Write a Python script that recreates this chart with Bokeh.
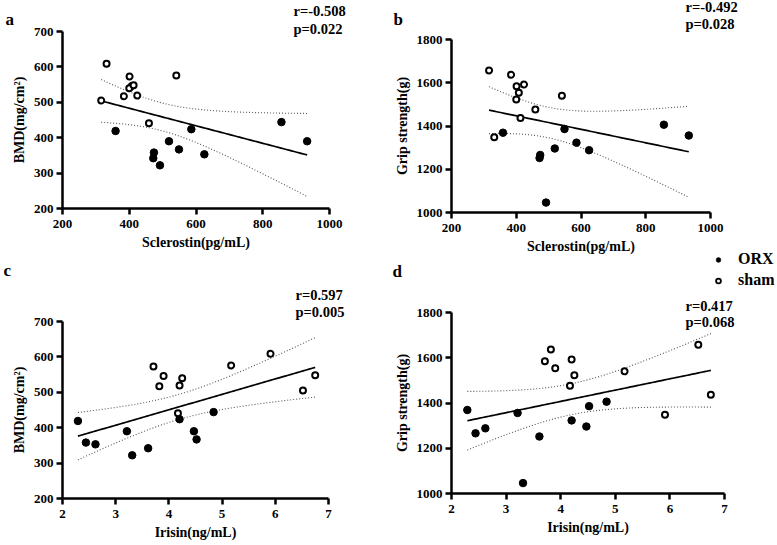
import numpy as np
from bokeh.plotting import figure
from bokeh.layouts import row, column
from bokeh.models import Range1d, FixedTicker, Label, Legend, LegendItem, GridBox
from bokeh.embed import file_html
from bokeh.resources import INLINE

# ---------------- data (one entry per animal) ----------------
group = ["ORX"] * 10 + ["sham"] * 10
sclerostin = [359, 474, 625, 933, 492, 472, 586, 519, 549, 856,
              401, 408, 384, 400, 424, 459, 541, 332, 316, 413]
irisin = [2.29, 2.44, 2.62, 3.21, 3.31, 3.61, 4.20, 4.47, 4.52, 4.84,
          3.71, 3.90, 3.82, 4.25, 4.20, 4.17, 5.17, 5.91, 6.52, 6.75]
bmd = [419, 358, 353, 390, 322, 342, 424, 390, 367, 444,
       573, 546, 517, 540, 519, 441, 576, 609, 505, 548]
grip = [1369, 1266, 1288, 1356, 1046, 1252, 1323, 1296, 1386, 1406,
        1584, 1554, 1637, 1523, 1592, 1476, 1540, 1348, 1657, 1437]

scl_ticks = [200, 400, 600, 800, 1000]
iri_ticks = [2, 3, 4, 5, 6, 7]
bmd_ticks = [200, 300, 400, 500, 600, 700]
grip_ticks = [1000, 1200, 1400, 1600, 1800]

stat_r = ["r=-0.508", "r=-0.492", "r=0.597", "r=0.417"]
stat_p = ["p=0.022", "p=0.028", "p=0.005", "p=0.068"]
letters = ["a", "b", "c", "d"]
legend_labels = ["ORX", "sham"]

T975_DF18 = 2.1009  # Student t, 95% two-sided, n-2 = 18

FONT = "Liberation Serif"
W, H = 777, 545


def style_axis(ax, label_standoff, tick_standoff):
    ax.axis_line_width = 2.5
    ax.axis_line_color = "black"
    ax.major_tick_line_width = 2.5
    ax.major_tick_line_color = "black"
    ax.major_tick_out = 6
    ax.major_tick_in = 0
    ax.minor_tick_line_color = None
    ax.major_label_text_font = FONT
    ax.major_label_text_font_style = "bold"
    ax.major_label_text_font_size = "13px"
    ax.major_label_text_color = "black"
    ax.major_label_standoff = tick_standoff
    ax.axis_label_text_font = FONT
    ax.axis_label_text_font_style = "bold"
    ax.axis_label_text_font_size = "14px"
    ax.axis_label_text_color = "black"
    ax.axis_label_standoff = label_standoff


def panel(xs, ys, xr, yr, xt, yt, xlabel, ylabel, fw, fh, bl, br, bt, bb):
    p = figure(title=None, frame_width=fw, frame_height=fh,
               x_range=Range1d(*xr), y_range=Range1d(*yr),
               min_border_left=bl, min_border_right=br, min_border_top=bt, min_border_bottom=bb,
               output_backend="svg", toolbar_location=None)
    p.outline_line_color = None
    p.xgrid.visible = False
    p.ygrid.visible = False
    p.background_fill_color = "white"
    p.border_fill_color = "white"
    p.xaxis.ticker = FixedTicker(ticks=xt)
    p.yaxis.ticker = FixedTicker(ticks=yt)
    p.xaxis.axis_label = xlabel
    p.yaxis.axis_label = ylabel
    style_axis(p.xaxis[0], 4, 5)
    style_axis(p.yaxis[0], 4, 3)

    x = np.array(xs, dtype=float)
    y = np.array(ys, dtype=float)
    n = len(x)
    slope, icept = np.polyfit(x, y, 1)
    xx = np.linspace(x.min(), x.max(), 80)
    yhat = icept + slope * xx
    resid = y - (icept + slope * x)
    s = np.sqrt(np.sum(resid ** 2) / (n - 2))
    se = s * np.sqrt(1.0 / n + (xx - x.mean()) ** 2 / np.sum((x - x.mean()) ** 2))
    p.line(xx, yhat + T975_DF18 * se, line_color="#555555", line_width=1.1, line_dash="1 2")
    p.line(xx, yhat - T975_DF18 * se, line_color="#555555", line_width=1.1, line_dash="1 2")
    p.line(xx, yhat, line_color="black", line_width=1.7)

    g = np.array(group)
    m_orx = g == "ORX"
    m_sh = g == "sham"
    p.scatter(x[m_orx], y[m_orx], size=7.5, fill_color="black", line_color="black", line_width=1)
    p.scatter(x[m_sh], y[m_sh], size=6, fill_color="white", line_color="black", line_width=2)
    return p


pa = panel(sclerostin, bmd, (200, 1000), (200, 700), scl_ticks, bmd_ticks,
           "Sclerostin(pg/mL)", "BMD(mg/cm\u00b2)", 267, 177, 62, 60, 31, 52)
pb = panel(sclerostin, grip, (200, 1000), (1000, 1800), scl_ticks, grip_ticks,
           "Sclerostin(pg/mL)", "Grip strength(g)", 259, 173, 57, 72, 39, 48)
pc = panel(irisin, bmd, (2, 7), (200, 700), iri_ticks, bmd_ticks,
           "Irisin(ng/mL)", "BMD(mg/cm\u00b2)", 266, 177, 52, 71, 61, 47)
pd_ = panel(irisin, grip, (2, 7), (1000, 1800), iri_ticks, grip_ticks,
            "Irisin(ng/mL)", "Grip strength(g)", 273, 181, 51, 64, 52, 52)

main = row(column(pa, pc), column(pb, pd_))

# transparent overlay that carries the panel letters, statistics and the legend
ov = figure(title=None, width=W, height=H, min_border=0,
            x_range=Range1d(0, W), y_range=Range1d(H, 0),
            x_axis_type=None, y_axis_type=None,
            output_backend="svg", toolbar_location=None)
ov.outline_line_color = None
ov.xgrid.visible = False
ov.ygrid.visible = False
ov.background_fill_color = None
ov.border_fill_color = None


def add_text(x, y, text, size):
    ov.add_layout(Label(x=x, y=y, text=text, text_font=FONT, text_font_style="bold",
                        text_font_size=size, text_color="black",
                        text_baseline="middle", text_align="left"))


letter_pos = [(5, 19), (393, 19), (3, 270), (392, 271)]
stat_pos = [(293, 10.5, 28.3), (685, 6.5, 23.3), (295, 294, 311.7), (685, 305, 321)]
for k in range(4):
    add_text(letter_pos[k][0], letter_pos[k][1], letters[k], "17px")
    add_text(stat_pos[k][0], stat_pos[k][1], stat_r[k], "14.5px")
    add_text(stat_pos[k][0], stat_pos[k][2], stat_p[k], "14.5px")

# legend-only renderers: a single placeholder point kept off the visible canvas
lg_orx = ov.scatter(x=[-100], y=[-100], size=6, fill_color="black", line_color="black", line_width=0.5)
lg_sh = ov.scatter(x=[-100], y=[-100], size=6, fill_color="white", line_color="black", line_width=1.8)
leg = Legend(items=[LegendItem(label=legend_labels[0], renderers=[lg_orx]),
                    LegendItem(label=legend_labels[1], renderers=[lg_sh])],
             location=(712, H - 289), orientation="vertical",
             glyph_width=12, glyph_height=15, label_height=15, label_standoff=14,
             spacing=3, padding=0, margin=0, border_line_color=None,
             background_fill_alpha=0, label_text_font=FONT, label_text_font_style="bold",
             label_text_font_size="16px", label_text_color="black")
ov.add_layout(leg)

layout = GridBox(children=[(main, 0, 0), (ov, 0, 0)])
open("out.html", "w").write(file_html(layout, INLINE))
